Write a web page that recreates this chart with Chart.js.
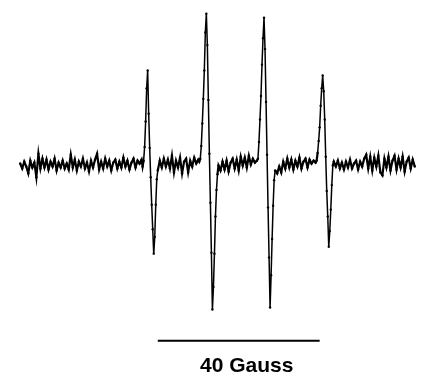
<!DOCTYPE html>
<html>
<head>
<meta charset="utf-8">
<script src="https://cdn.jsdelivr.net/npm/chart.js@4"></script>
<style>
  html, body { margin: 0; padding: 0; background: #fff; }
  canvas { display: block; }
</style>
</head>
<body>
<canvas id="epr" width="422" height="380"></canvas>
<script>
// magnetic field (G) and first-derivative signal (arb. units)
const field = [
  // low-field baseline
  3441, 3441.5, 3442, 3442.5, 3443, 3443.5, 3444, 3444.5, 3445, 3445.5,
  3446, 3446.5, 3447, 3447.5, 3448, 3448.5, 3449, 3449.5, 3450, 3450.5,
  3451, 3451.5, 3452, 3452.5, 3453, 3453.5, 3454, 3454.5, 3455, 3455.5,
  3456, 3456.5, 3457, 3457.5, 3458, 3458.5, 3459, 3459.5, 3460, 3460.5,
  3461, 3461.5, 3462, 3462.5, 3463, 3463.5, 3464, 3464.5, 3465, 3465.5,
  3466, 3466.5, 3467, 3467.5, 3468, 3468.5, 3469, 3469.5, 3470, 3470.5,
  3471,
  // line 1
  3471.25, 3471.5, 3471.75, 3472, 3472.25, 3472.5, 3472.75, 3473, 3473.25, 3473.5,
  3473.75, 3474, 3474.25, 3474.5, 3474.75, 3475,
  3475.5, 3476, 3476.5, 3477, 3477.5, 3478, 3478.5, 3479, 3479.5, 3480,
  3480.5, 3481, 3481.5, 3482, 3482.5, 3483, 3483.5, 3484, 3484.5, 3485,
  // line 2
  3485.25, 3485.5, 3485.75, 3486, 3486.25, 3486.5, 3486.75, 3487, 3487.25, 3487.5,
  3487.75, 3488, 3488.25, 3488.5, 3488.75, 3489, 3489.25, 3489.5, 3489.75, 3490,
  3490.5, 3491, 3491.5, 3492, 3492.5, 3493, 3493.5, 3494, 3494.5, 3495,
  3495.5, 3496, 3496.5, 3497, 3497.5, 3498, 3498.5, 3499,
  // line 3
  3499.5, 3499.75, 3500, 3500.25, 3500.5, 3500.75, 3501, 3501.25, 3501.5, 3501.75,
  3502, 3502.25, 3502.5, 3502.75, 3503, 3503.25, 3503.5, 3503.75, 3504,
  3504.5, 3505, 3505.5, 3506, 3506.5, 3507, 3507.5, 3508, 3508.5, 3509,
  3509.5, 3510, 3510.5, 3511, 3511.5, 3512, 3512.5, 3513, 3513.5,
  // line 4
  3514, 3514.25, 3514.5, 3514.75, 3515, 3515.25, 3515.5, 3515.75, 3516, 3516.25,
  3516.5, 3516.75, 3517, 3517.25, 3517.5, 3517.75, 3518, 3518.25,
  // high-field baseline
  3518.5, 3519, 3519.5, 3520, 3520.5, 3521, 3521.5, 3522, 3522.5, 3523,
  3523.5, 3524, 3524.5, 3525, 3525.5, 3526, 3526.5, 3527, 3527.5, 3528,
  3528.5, 3529, 3529.5, 3530, 3530.5, 3531, 3531.5, 3532, 3532.5, 3533,
  3533.5, 3534, 3534.5, 3535, 3535.5, 3536, 3536.5, 3537, 3537.5, 3538,
  3538.5
];

const intensity = [
  1, -4, 3, -2, -9, 4, -3, 2, -13, 11,
  -4, 6, -3, 5, -5, 3, -2, 6, -6, 2,
  -3, 4, -4, 1, -5, 10, -3, 5, -6, 3,
  -2, 6, -4, 2, -7, 4, -3, 5, 11, -5,
  3, -4, 6, -2, 4, -6, 2, 5, -4, 3,
  -3, 7, -2, 4, -5, 2, 6, -3, 4, 1,
  5,
  -2, 4, 18, 44, 78, 96, 52, 17, -13, -41,
  -66, -91, -74, -41, -15, -6,
  4, -3, 6, -2, 5, -4, 9, -8, 4, -3,
  7, -9, 3, 6, -8, 4, -2, 7, 1, 5,
  3, 6, 19, 42, 67, 96, 135, 154, 122, 66,
  11, -39, -90, -148, -125, -91, -53, -26, -10, -1,
  -6, 3, -5, 4, -7, 2, 6, -4, 5, -6,
  8, -1, 7, -3, 9, 0, 6, 2,
  4, 6, 23, 46, 70, 102, 129, 150, 118, 64,
  10, -44, -95, -146, -113, -76, -42, -16, -6,
  -9, -2, -8, 3, -4, 6, -3, 5, -5, 4,
  -2, 7, -4, 3, 6, -3, 5, 1, 4,
  2, 4, 12, 24, 38, 60, 78, 91, 75, 46,
  8, -27, -53, -84, -68, -46, -21, -1,
  3, -2, 4, -4, 2, -5, 3, -3, 5, -4,
  1, 4, -5, 3, -2, 6, 10, -4, 8, -6,
  7, -2, 9, -8, -11, 6, -3, 8, -6, 4,
  9, -5, 6, -3, 8, -7, 3, 7, -4, 5,
  -2
];

// 40 G scale bar under the spectrum
const barStart = 3475;
const barLength = 40;
const barLabel = "40 Gauss";

const scaleBar = {
  id: "scaleBar",
  afterDraw(chart) {
    const ctx = chart.ctx;
    const xs = chart.scales.x;
    const ys = chart.scales.y;
    const x0 = xs.getPixelForValue(barStart);
    const x1 = xs.getPixelForValue(barStart + barLength);
    const yb = ys.getPixelForValue(-180);
    ctx.save();
    ctx.strokeStyle = "#000";
    ctx.lineWidth = 2;
    ctx.beginPath();
    ctx.moveTo(x0, yb);
    ctx.lineTo(x1, yb);
    ctx.stroke();
    ctx.fillStyle = "#000";
    ctx.font = "bold 21px 'Liberation Sans', Arial, sans-serif";
    ctx.textAlign = "center";
    ctx.textBaseline = "alphabetic";
    ctx.fillText(barLabel, (x0 + x1) / 2 + 8, yb + 31);
    ctx.restore();
  }
};

// noisy baseline stretches are drawn a little heavier than the lines
const noisy = ctx => Math.abs(ctx.p0.parsed.y) < 14 && Math.abs(ctx.p1.parsed.y) < 14;

const spectrum = new Chart("epr", {
  type: "scatter",
  data: {
    datasets: [{
      data: field.map((f, i) => ({ x: f, y: intensity[i] })),
      showLine: true,
      borderColor: "#000",
      borderWidth: 1.5,
      segment: {
        borderWidth: ctx => noisy(ctx) ? 2.2 : undefined
      },
      pointRadius: 1.2,
      pointBorderWidth: 0,
      pointBackgroundColor: "#000",
      tension: 0
    }]
  },
  options: {
    responsive: false,
    animation: false,
    layout: { padding: 0 },
    plugins: {
      legend: { display: false },
      tooltip: { enabled: false }
    },
    scales: {
      x: { type: "linear", display: false, min: 3437, max: 3539.3 },
      y: { display: false, min: -216, max: 164 }
    }
  },
  plugins: [scaleBar]
});
</script>
</body>
</html>
